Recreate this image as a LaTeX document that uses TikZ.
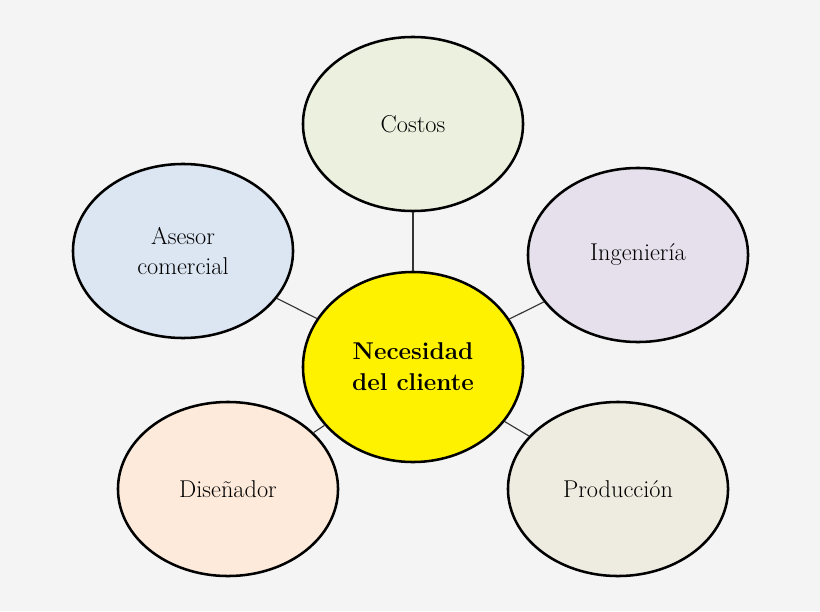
\documentclass[tikz,border=0pt]{standalone}
\usepackage{tikz}
\usetikzlibrary{shapes.geometric,backgrounds}
\definecolor{bgGray}{HTML}{F4F4F4}
\definecolor{costosFill}{HTML}{EBF1DE}
\definecolor{asesorFill}{HTML}{DCE6F2}
\definecolor{ingFill}{HTML}{E6E0EC}
\definecolor{disFill}{HTML}{FDEADA}
\definecolor{prodFill}{HTML}{EEECE1}
\begin{document}
\begin{tikzpicture}[x=0.025cm,y=-0.025cm]

    \tikzstyle{commonNode}=[ellipse, draw=black, line width=1.8pt, align=center, font=\LARGE, inner sep=0pt]
    \tikzstyle{area}=[commonNode, minimum width=5.5cm, minimum height=4.35cm]
    \tikzstyle{link}=[draw=black!80, line width=0.8pt]

    \fill[bgGray] (0,0) rectangle (820,611);

    % Center and areas
    \node at (413,367) [commonNode, fill=yellow, minimum width=5.5cm, minimum height=4.75cm, font=\LARGE\bfseries] (NC) {Necesidad\\del cliente};
    \node at (413,124) [area, fill=costosFill] (C) {Costos};
    \node at (183,251) [area, fill=asesorFill] (AC) {Asesor\\comercial};
    \node at (638,255) [area, fill=ingFill] (I) {Ingeniería};
    \node at (228,489) [area, fill=disFill] (D) {Diseñador};
    \node at (618,489) [area, fill=prodFill] (P) {Producción};

    % Links
    \foreach \n in {C,AC,I,D,P}
        \draw [link] (NC) -- (\n);
\end{tikzpicture}
\end{document}
